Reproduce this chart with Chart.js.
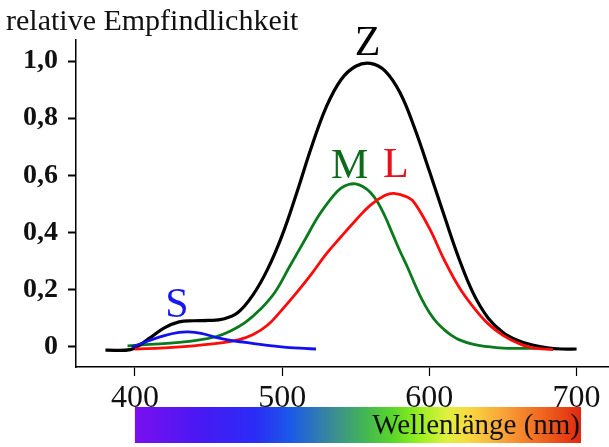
<!DOCTYPE html>
<html>
<head>
<meta charset="utf-8">
<script src="https://cdn.jsdelivr.net/npm/chart.js@4.4.0/dist/chart.umd.min.js"></script>
<style>
  html, body { margin: 0; padding: 0; background: #fff; }
  #wrap { width: 609px; height: 447px; }
</style>
</head>
<body>
<div id="wrap"><canvas id="chart"></canvas></div>
<script>
// wavelength (nm) / relative sensitivity
const sWl  = [398, 405, 410, 420, 430, 436, 445, 455, 465, 475, 485, 495, 505, 515, 523];
const sVal = [0.0, 0.012, 0.022, 0.039, 0.05, 0.052, 0.047, 0.033, 0.022, 0.015, 0.008, 0.002, -0.003, -0.006, -0.008];

const mWl  = [395, 410, 430, 445, 455, 465, 475, 485, 495, 505, 515, 525, 535, 540, 545, 550, 555, 560, 565, 570, 575, 580, 585, 590, 595, 600, 605, 610, 615, 620, 630, 640, 650, 660, 673];
const mVal = [0.003, 0.008, 0.015, 0.025, 0.035, 0.055, 0.085, 0.13, 0.19, 0.28, 0.37, 0.46, 0.53, 0.555, 0.568, 0.57, 0.56, 0.54, 0.505, 0.455, 0.395, 0.335, 0.28, 0.22, 0.165, 0.12, 0.085, 0.06, 0.04, 0.025, 0.008, 0.0, -0.005, -0.006, -0.006];

const lWl  = [400, 420, 440, 460, 470, 480, 490, 500, 510, 520, 530, 540, 550, 560, 570, 576, 585, 590, 600, 610, 620, 630, 640, 650, 660, 670, 684];
const lVal = [-0.008, -0.004, 0.003, 0.014, 0.024, 0.042, 0.075, 0.13, 0.19, 0.255, 0.325, 0.385, 0.443, 0.496, 0.53, 0.537, 0.524, 0.503, 0.415, 0.305, 0.21, 0.138, 0.08, 0.04, 0.013, -0.004, -0.01];

const zWl  = [380, 397, 405, 410, 420, 430, 440, 450, 460, 470, 480, 490, 500, 510, 520, 530, 540, 550, 560, 570, 580, 590, 600, 610, 620, 630, 640, 650, 660, 670, 680, 690, 700];
const zVal = [-0.012, -0.01, 0.012, 0.03, 0.066, 0.087, 0.091, 0.092, 0.097, 0.12, 0.18, 0.27, 0.39, 0.54, 0.7, 0.84, 0.935, 0.982, 0.992, 0.965, 0.89, 0.765, 0.615, 0.46, 0.31, 0.185, 0.1, 0.05, 0.022, 0.006, -0.004, -0.008, -0.008];

const xTicks = [400, 500, 600, 700];
const yTicks = [0, 0.2, 0.4, 0.6, 0.8, 1.0];
const yTickLabels = ['0', '0,2', '0,4', '0,6', '0,8', '1,0'];

// curve letters: [text, wavelength, value, colour]
const curveLabels = [
  ['S', 428.5, 0.104, '#1818f0'],
  ['M', 545.8, 0.592, '#0d6b1a'],
  ['L', 577.3, 0.594, '#e8101a'],
  ['Z', 558, 1.021, '#000000']
];

const pts = (xs, ys) => xs.map((x, i) => ({ x: x, y: ys[i] }));
const SERIF = '"Liberation Serif", "DejaVu Serif", serif';

const extras = {
  id: 'extras',
  afterDraw(chart) {
    const ctx = chart.ctx;
    const xs = chart.scales.x, ys = chart.scales.y;
    ctx.save();

    // rainbow strip under the axis, 400..703 nm
    const x0 = xs.getPixelForValue(400), x1 = xs.getPixelForValue(703);
    const g = ctx.createLinearGradient(x0, 0, x1, 0);
    g.addColorStop(0.00, '#7a0ff0');
    g.addColorStop(0.14, '#4a18f2');
    g.addColorStop(0.27, '#2a2cf5');
    g.addColorStop(0.35, '#1a5ae8');
    g.addColorStop(0.44, '#3a8a98');
    g.addColorStop(0.52, '#44b850');
    g.addColorStop(0.58, '#5ad828');
    g.addColorStop(0.64, '#9cf020');
    g.addColorStop(0.70, '#e0f040');
    g.addColorStop(0.75, '#f8d840');
    g.addColorStop(0.83, '#f8a038');
    g.addColorStop(0.91, '#f06820');
    g.addColorStop(1.00, '#e02810');
    ctx.fillStyle = g;
    ctx.fillRect(x0, 407, x1 - x0, 36);

    ctx.fillStyle = '#111';
    ctx.font = '29px ' + SERIF;
    ctx.textAlign = 'right';
    ctx.textBaseline = 'alphabetic';
    ctx.fillText('Wellenlänge (nm)', x1 - 1, 434);

    // axis caption top left
    ctx.textAlign = 'left';
    ctx.font = '30px ' + SERIF;
    ctx.fillText('relative Empfindlichkeit', 6, 30);

    // letters at the curves
    ctx.textAlign = 'center';
    ctx.font = '42px ' + SERIF;
    curveLabels.forEach(([t, wl, v, c]) => {
      ctx.fillStyle = c;
      ctx.fillText(t, xs.getPixelForValue(wl), ys.getPixelForValue(v));
    });
    ctx.restore();
  }
};

new Chart(document.getElementById('chart'), {
  type: 'line',
  data: {
    datasets: [
      { label: 'S', data: pts(sWl, sVal), borderColor: '#1010f0', borderWidth: 2.8 },
      { label: 'L', data: pts(lWl, lVal), borderColor: '#ff0a0a', borderWidth: 2.8 },
      { label: 'Z', data: pts(zWl, zVal), borderColor: '#000000', borderWidth: 3.2 },
      { label: 'M', data: pts(mWl, mVal), borderColor: '#0a7a1c', borderWidth: 2.8 }
    ]
  },
  options: {
    responsive: true,
    maintainAspectRatio: false,
    animation: false,
    layout: { padding: { top: 40, left: 0, right: 0, bottom: 0 } },
    elements: {
      point: { radius: 0 },
      line: { tension: 0.4, fill: false, capBezierPoints: true }
    },
    plugins: { legend: { display: false }, tooltip: { enabled: false } },
    scales: {
      x: {
        type: 'linear',
        min: 360,
        max: 722,
        afterBuildTicks: s => { s.ticks = xTicks.map(v => ({ value: v })); },
        afterFit: s => { s.height = 80; },
        border: { display: true, color: '#000', width: 1.5 },
        grid: { drawOnChartArea: false, drawTicks: true, tickLength: 9, tickWidth: 1.2, tickColor: '#000' },
        ticks: {
          color: '#111',
          padding: 3,
          font: { family: SERIF, size: 32 },
          callback: v => String(v)
        }
      },
      y: {
        type: 'linear',
        min: -0.071,
        max: 1.074,
        afterBuildTicks: s => { s.ticks = yTicks.map(v => ({ value: v })); },
        afterFit: s => { s.width = 76; },
        border: { display: true, color: '#000', width: 1.5 },
        grid: { drawOnChartArea: false, drawTicks: true, tickLength: 8, tickWidth: 2, tickColor: '#000' },
        ticks: {
          color: '#111',
          padding: 10,
          font: { family: SERIF, size: 28, weight: 'bold' },
          callback: v => yTickLabels[yTicks.findIndex(t => Math.abs(t - v) < 1e-6)]
        }
      }
    }
  },
  plugins: [extras]
});
</script>
</body>
</html>
